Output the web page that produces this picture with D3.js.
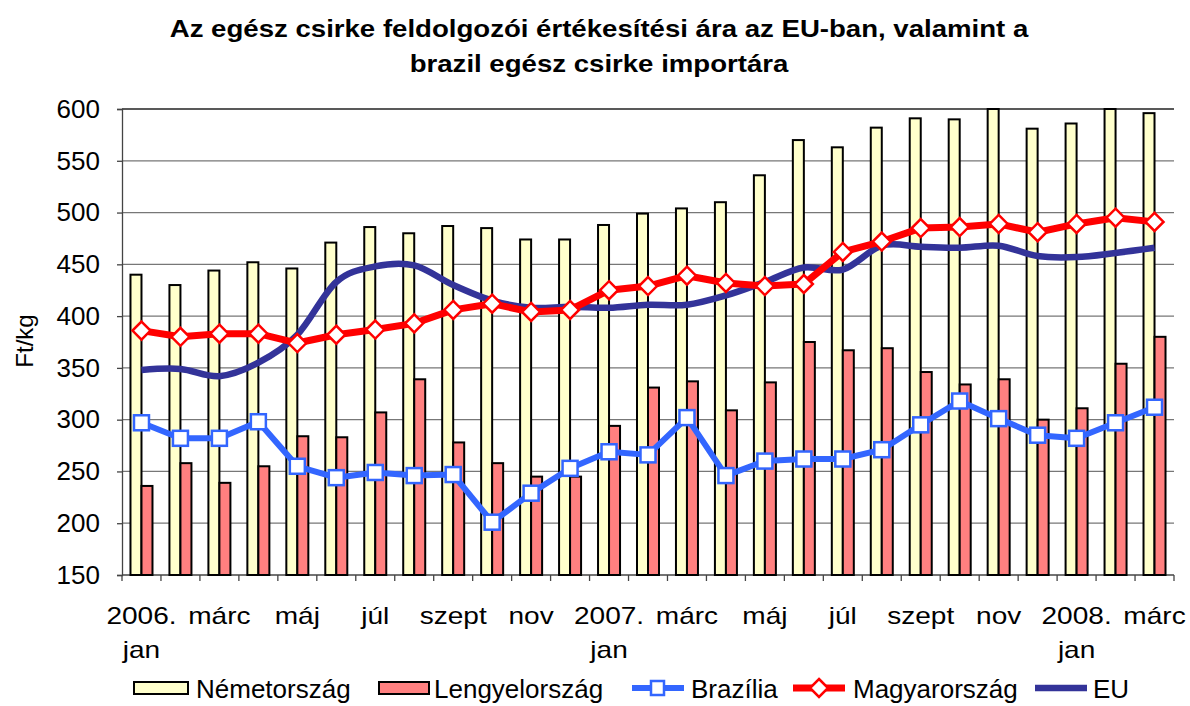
<!DOCTYPE html>
<html>
<head>
<meta charset="utf-8">
<title>Csirke árak</title>
<script src="https://cdnjs.cloudflare.com/ajax/libs/d3/7.8.5/d3.min.js"></script>
<style>
  body { margin: 0; background: #fff; }
  svg { display: block; font-family: "Liberation Sans", Arial, sans-serif; }
</style>
</head>
<body>
<div id="chart"></div>
<script>

  /* ---------- adatok ---------- */

  var honapok = ["2006. jan","febr","márc","ápr","máj","jún","júl","aug","szept","okt","nov","dec",
                 "2007. jan","febr","márc","ápr","máj","jún","júl","aug","szept","okt","nov","dec",
                 "2008. jan","febr","márc"];

  // tengelyfeliratok: csak minden második hónap
  var tengelyFeliratok = [["2006.","jan"],["márc"],["máj"],["júl"],["szept"],["nov"],
                          ["2007.","jan"],["márc"],["máj"],["júl"],["szept"],["nov"],
                          ["2008.","jan"],["márc"]];

  var nemetorszag = [440,430,444,452,446,471,486,480,487,485,474,474,
                     488,499,504,510,536,570,563,582,591,590,600,581,
                     586,600,596];

  var lengyelorszag = [236,258,239,255,284,283,307,339,278,258,245,245,
                       294,331,337,309,336,375,367,369,346,334,339,300,
                       311,354,380];

  var brazilia = [297,282,282,298,255,244,249,246,247,201,229,253,
                  269,266,302,246,260,262,262,271,295,318,301,285,
                  282,297,312];

  var magyarorszag = [386,380,383,383,374,382,387,393,406,412,404,406,
                      425,429,439,432,429,431,462,472,485,486,489,481,
                      489,495,491];

  var eu = [348,349,342,355,382,433,448,449,430,415,408,409,
            408,411,411,420,433,447,445,468,467,466,468,458,
            457,461,466];

  var yTicks = [150,200,250,300,350,400,450,500,550,600];

  /* ---------- méretek ---------- */

  var width = 1190, height = 706;
  var pLeft = 122, pRight = 1174, pTop = 109, pBottom = 575;

  var svg = d3.select("#chart").append("svg")
      .attr("width", width)
      .attr("height", height);

  var x = d3.scaleBand()
      .domain(d3.range(honapok.length))
      .range([pLeft, pRight])
      .padding(0);

  var y = d3.scaleLinear()
      .domain([150, 600])
      .range([pBottom, pTop]);

  var cx = function(i) { return x(i) + x.bandwidth() / 2; };

  /* ---------- cím ---------- */

  var title = svg.append("text")
      .attr("text-anchor", "middle")
      .attr("transform", "translate(599,0) scale(1.2,1)")
      .style("font-weight", "bold")
      .style("font-size", "23px");
  title.append("tspan").attr("x", 0).attr("y", 37)
      .text("Az egész csirke feldolgozói értékesítési ára az EU-ban, valamint a");
  title.append("tspan").attr("x", 0).attr("y", 72)
      .text("brazil egész csirke importára");

  /* ---------- rács és tengelyek ---------- */

  svg.append("g").selectAll("line")
      .data(yTicks.slice(1))
      .enter().append("line")
        .attr("x1", pLeft).attr("x2", pRight)
        .attr("y1", function(d) { return y(d); })
        .attr("y2", function(d) { return y(d); })
        .style("stroke", function(d) { return d === 600 ? "#222" : "#777"; })
        .style("stroke-width", 1.3);

  var yAxis = svg.append("g")
      .attr("transform", "translate(" + pLeft + ",0)")
      .call(d3.axisLeft(y).tickValues(yTicks).tickSize(5).tickPadding(17));
  yAxis.select(".domain").style("stroke", "#444").style("stroke-width", 1.3);
  yAxis.selectAll(".tick line").style("stroke", "#444").style("stroke-width", 1.3);
  yAxis.selectAll("text")
      .style("font-size", "26px")
      .style("font-family", "'Liberation Sans', Arial, sans-serif")
      .style("fill", "#000");

  svg.append("text")
      .attr("transform", "translate(33,341) rotate(-90)")
      .attr("text-anchor", "middle")
      .style("font-size", "24px")
      .text("Ft/kg");

  // x tengely: vonal + osztások a kategóriahatárokon
  svg.append("line")
      .attr("x1", pLeft).attr("x2", pRight)
      .attr("y1", pBottom).attr("y2", pBottom)
      .style("stroke", "#444").style("stroke-width", 1.3);

  svg.append("g").selectAll("line")
      .data(d3.range(honapok.length + 1))
      .enter().append("line")
        .attr("x1", function(i) { return pLeft + i * x.step(); })
        .attr("x2", function(i) { return pLeft + i * x.step(); })
        .attr("y1", pBottom).attr("y2", pBottom + 6)
        .style("stroke", "#444").style("stroke-width", 1.3);

  var lbl = svg.append("g").selectAll("g")
      .data(tengelyFeliratok)
      .enter().append("g")
        .attr("transform", function(d, i) { return "translate(" + cx(i * 2) + ",0)"; });
  lbl.append("text")
      .attr("text-anchor", "middle")
      .attr("transform", "scale(1.22,1)")
      .style("font-size", "23px")
      .selectAll("tspan")
      .data(function(d) { return d; })
      .enter().append("tspan")
        .attr("x", 0)
        .attr("y", function(d, j) { return 624 + j * 34; })
        .text(function(d) { return d; });

  /* ---------- oszlopok ---------- */

  var barW = 11;

  svg.append("g").selectAll("rect")
      .data(nemetorszag)
      .enter().append("rect")
        .attr("x", function(d, i) { return cx(i) - barW; })
        .attr("y", function(d) { return y(d); })
        .attr("width", barW)
        .attr("height", function(d) { return pBottom - y(d); })
        .style("fill", "#FFFFCC")
        .style("stroke", "#000")
        .style("stroke-width", 2);

  svg.append("g").selectAll("rect")
      .data(lengyelorszag)
      .enter().append("rect")
        .attr("x", function(d, i) { return cx(i); })
        .attr("y", function(d) { return y(d); })
        .attr("width", barW)
        .attr("height", function(d) { return pBottom - y(d); })
        .style("fill", "#FF8080")
        .style("stroke", "#000")
        .style("stroke-width", 2);

  /* ---------- vonalak ---------- */

  var line = d3.line()
      .x(function(d, i) { return cx(i); })
      .y(function(d) { return y(d); });

  svg.append("path")
      .datum(brazilia)
      .attr("d", line)
      .style("fill", "none")
      .style("stroke", "#3366FF")
      .style("stroke-width", 6)
      .style("stroke-linejoin", "round");

  svg.append("path")
      .datum(eu)
      .attr("d", line.curve(d3.curveCardinal.tension(0)))
      .style("fill", "none")
      .style("stroke", "#333399")
      .style("stroke-width", 6.5);

  line.curve(d3.curveLinear);

  svg.append("path")
      .datum(magyarorszag)
      .attr("d", line)
      .style("fill", "none")
      .style("stroke", "#FF0000")
      .style("stroke-width", 7)
      .style("stroke-linejoin", "round");

  // jelölők
  svg.append("g").selectAll("rect")
      .data(brazilia)
      .enter().append("rect")
        .attr("x", function(d, i) { return cx(i) - 7.5; })
        .attr("y", function(d) { return y(d) - 7.5; })
        .attr("width", 15).attr("height", 15)
        .style("fill", "#fff")
        .style("stroke", "#3366FF")
        .style("stroke-width", 2.5);

  var diamond = "M0,-9L9,0L0,9L-9,0Z";

  svg.append("g").selectAll("path")
      .data(magyarorszag)
      .enter().append("path")
        .attr("transform", function(d, i) { return "translate(" + cx(i) + "," + y(d) + ")"; })
        .attr("d", diamond)
        .style("fill", "#fff")
        .style("stroke", "#FF0000")
        .style("stroke-width", 2.5);

  /* ---------- jelmagyarázat ---------- */

  var ly = 688;
  var legend = svg.append("g").style("font-size", "26px");

  legend.append("rect").attr("x", 134).attr("y", ly - 6).attr("width", 54).attr("height", 12)
      .style("fill", "#FFFFCC").style("stroke", "#000").style("stroke-width", 2);
  legend.append("text").attr("x", 196).attr("y", ly + 10).text("Németország");

  legend.append("rect").attr("x", 379).attr("y", ly - 6).attr("width", 50).attr("height", 12)
      .style("fill", "#FF8080").style("stroke", "#000").style("stroke-width", 2);
  legend.append("text").attr("x", 434).attr("y", ly + 10).text("Lengyelország");

  legend.append("line").attr("x1", 632).attr("x2", 684).attr("y1", ly).attr("y2", ly)
      .style("stroke", "#3366FF").style("stroke-width", 6);
  legend.append("rect").attr("x", 651).attr("y", ly - 7).attr("width", 13).attr("height", 14)
      .style("fill", "#fff").style("stroke", "#3366FF").style("stroke-width", 2.5);
  legend.append("text").attr("x", 691).attr("y", ly + 10).text("Brazília");

  legend.append("line").attr("x1", 793).attr("x2", 845).attr("y1", ly).attr("y2", ly)
      .style("stroke", "#FF0000").style("stroke-width", 7);
  legend.append("path").attr("transform", "translate(819," + ly + ")").attr("d", diamond)
      .style("fill", "#fff").style("stroke", "#FF0000").style("stroke-width", 2.5);
  legend.append("text").attr("x", 853).attr("y", ly + 10).text("Magyarország");

  legend.append("line").attr("x1", 1035).attr("x2", 1087).attr("y1", ly).attr("y2", ly)
      .style("stroke", "#333399").style("stroke-width", 6.5);
  legend.append("text").attr("x", 1093).attr("y", ly + 10).text("EU");

</script>
</body>
</html>
